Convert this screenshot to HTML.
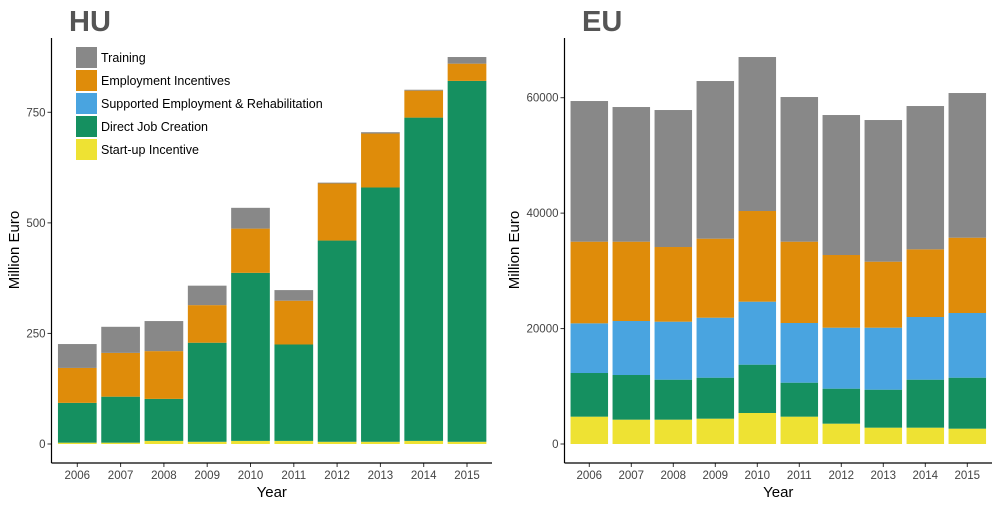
<!DOCTYPE html>
<html><head><meta charset="utf-8"><style>
body{margin:0;background:#fff;font-family:"Liberation Sans",sans-serif;}
svg text{font-family:"Liberation Sans",sans-serif;}
</style></head><body>
<svg id="c" width="1000" height="504" xmlns="http://www.w3.org/2000/svg"></svg>
<script>
const years=["2006","2007","2008","2009","2010","2011","2012","2013","2014","2015"];
const seriesNames=["Start-up Incentive","Direct Job Creation","Supported Employment & Rehabilitation","Employment Incentives","Training"];
const seriesColors=["#EEE233","#159060","#49A4E0","#DF8C0A","#888888"];
const huStartup=[3,3,7,5,7,7,5,5,7,5];
const huDirect=[90,104,95,224,380,218,455,575,731,816];
const huSupported=[0,0,0,0,0,0,0,0,0,0];
const huEmployment=[79,99,108,85,100,99,129,122,61,39];
const huTraining=[54,59,68,44,47,24,2,3,2,15];
const euStartup=[4736,4216,4216,4389,5371,4736,3523,2830,2830,2657];
const euDirect=[7564,7738,6930,7103,8374,5890,6064,6583,8316,8835];
const euSupported=[8606,9356,10048,10395,10914,10338,10568,10742,10857,11204];
const euEmployment=[14148,13744,12936,13687,15708,14090,12589,11434,11723,13051];
const euTraining=[24371,23331,23736,27316,26681,25064,24256,24544,24833,25064];
const huTicks=[0,250,500,750];
const euTicks=[0,20000,40000,60000];
const NS="http://www.w3.org/2000/svg";
const svg=document.getElementById('c');
function mk(tag,attrs,parent){const e=document.createElementNS(NS,tag);for(const k in attrs)e.setAttribute(k,attrs[k]);(parent||svg).appendChild(e);return e;}
function panel(cfg){
  const g=mk('g',{});
  
  
  const y=v=>cfg.y0-v*cfg.k;
  const x=i=>cfg.x0+i*cfg.step;
  const t=mk('text',{x:cfg.titleX,y:31,'font-size':29,'font-weight':'bold',fill:'#555'},g);t.textContent=cfg.title;
  
  
  years.forEach((yr,i)=>{
    let acc=0;
    cfg.series.forEach((arr,s)=>{
      const v=arr[i];if(v<=0)return;
      const r=mk('rect',{x:x(i)-cfg.bw/2,y:y(acc+v),width:cfg.bw,height:v*cfg.k,fill:seriesColors[s]},g);
      
      
      acc+=v;
    });
    mk('line',{x1:x(i),x2:x(i),y1:cfg.axisY,y2:cfg.axisY+4,stroke:'#333'},g);
    const tl=mk('text',{x:x(i),y:cfg.axisY+16,'font-size':11.5,fill:'#444','text-anchor':'middle'},g);tl.textContent=yr;
    
    
  });
  cfg.ticks.forEach(tv=>{
    mk('line',{x1:cfg.axisX-4,x2:cfg.axisX,y1:y(tv),y2:y(tv),stroke:'#333'},g);
    const tl=mk('text',{x:cfg.axisX-6,y:y(tv)+4,'font-size':11.5,fill:'#444','text-anchor':'end'},g);tl.textContent=tv;
    
    
  });
  mk('line',{x1:cfg.axisX,x2:cfg.axisX,y1:38,y2:cfg.axisY,stroke:'#000','stroke-width':1.2},g);
  mk('line',{x1:cfg.axisX,x2:cfg.right,y1:cfg.axisY,y2:cfg.axisY,stroke:'#000','stroke-width':1.2},g);
  const xt=mk('text',{x:(cfg.axisX+cfg.right)/2,y:497,'font-size':15,fill:'#000','text-anchor':'middle'},g);xt.textContent='Year';
  
  
  const yt=mk('text',{x:0,y:0,'font-size':15,fill:'#000','text-anchor':'middle',transform:`translate(${cfg.ytX},250) rotate(-90)`},g);yt.textContent='Million Euro';
  
  
}
panel({name:'hu',title:'HU',titleX:69,x0:77.3,step:43.3,bw:38.7,y0:444,k:331.7/750,axisX:51.5,axisY:463,right:492,ticks:huTicks,ytX:19,
  series:[huStartup,huDirect,huSupported,huEmployment,huTraining]});
panel({name:'eu',title:'EU',titleX:582,x0:589.3,step:42,bw:37.5,y0:444,k:346.3/60000,axisX:564.5,axisY:463,right:992,ticks:euTicks,ytX:519,
  series:[euStartup,euDirect,euSupported,euEmployment,euTraining]});
const leg=mk('g',{});


const order=[4,3,2,1,0];
order.forEach((s,j)=>{
  const yy=47+j*23;
  mk('rect',{x:76,y:yy,width:21,height:21,fill:seriesColors[s]},leg);
  const t=mk('text',{x:101,y:yy+15,'font-size':12.5,fill:'#000'},leg);t.textContent=seriesNames[s];
  
  
});
</script>
</body></html>
